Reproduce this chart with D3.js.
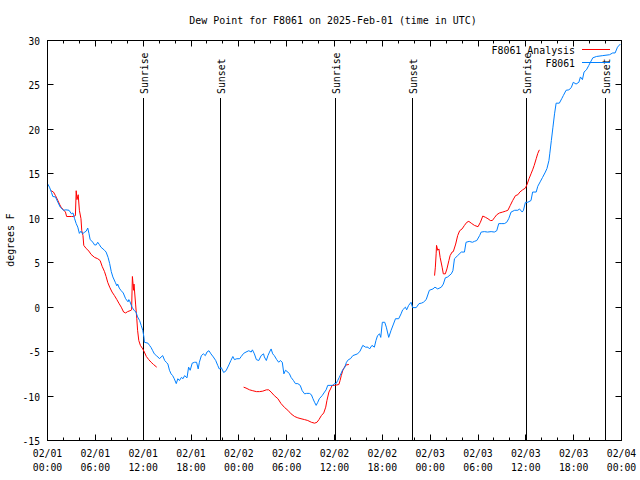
<!DOCTYPE html>
<html>
<head>
<meta charset="utf-8">
<script src="https://cdn.jsdelivr.net/npm/d3@7"></script>
<style>
  html, body { margin: 0; padding: 0; background: #fff; }
  svg { display: block; }
  text { font-family: "DejaVu Sans Mono", "Liberation Mono", monospace; font-size: 11px; fill: #000; }
</style>
</head>
<body>
<svg id="chart" width="640" height="480"></svg>
<script>
// ---------------- data ----------------
const titleText = "Dew Point for F8061 on 2025-Feb-01 (time in UTC)";
const yLabel = "degrees F";
const yTicks = [-15, -10, -5, 0, 5, 10, 15, 20, 25, 30];
const xTickHours = [0, 6, 12, 18, 24, 30, 36, 42, 48, 54, 60, 66, 72];
const xTickDates = ["02/01","02/01","02/01","02/01","02/02","02/02","02/02","02/02","02/03","02/03","02/03","02/03","02/04"];
const xTickTimes = ["00:00","06:00","12:00","18:00","00:00","06:00","12:00","18:00","00:00","06:00","12:00","18:00","00:00"];
const seriesNames = ["F8061 Analysis", "F8061"];

// hours since 2025-02-01 00:00 UTC
const sunHours = [12.08, 21.74, 36.16, 45.82, 60.12, 70.0];
const sunLabels = ["Sunrise", "Sunset", "Sunrise", "Sunset", "Sunrise", "Sunset"];

// Observed F8061 (blue)
const obsHours = [0.0,0.25,0.5,0.67,1.0,1.3,1.6,2.0,2.3,2.7,3.0,3.2,3.4,3.6,3.8,4.0,4.2,4.4,4.6,4.85,5.05,5.2,5.35,5.7,5.9,6.1,6.3,6.5,6.7,7.15,7.35,7.6,7.8,8.0,8.2,8.5,8.7,8.8,9.0,9.2,9.5,9.8,10.1,10.2,10.35,10.6,10.9,11.1,11.3,11.55,11.75,11.95,12.1,12.15,12.6,12.8,13.0,13.2,13.4,13.65,13.85,14.05,14.25,14.45,14.7,14.9,15.1,15.3,15.5,15.7,15.9,16.15,16.35,16.55,16.8,17.0,17.2,17.5,17.7,17.9,18.15,18.45,18.7,18.9,19.05,19.3,19.55,19.8,20.0,20.25,20.5,20.8,21.1,21.35,21.55,21.8,22.1,22.4,22.75,23.0,23.25,23.45,23.75,24.1,24.3,24.6,24.9,25.25,25.55,25.7,25.95,26.2,26.5,26.8,27.1,27.2,27.45,27.65,27.85,28.05,28.25,28.45,28.75,29.0,29.2,29.45,29.65,29.85,30.15,30.35,30.55,30.85,31.1,31.4,31.7,31.95,32.25,32.5,32.85,33.1,33.3,33.5,33.7,33.9,34.1,34.45,34.75,34.95,35.15,35.45,35.8,36.0,36.2,36.4,36.6,36.85,37.05,37.25,37.5,37.75,38.0,38.3,38.9,39.2,39.55,39.9,40.2,40.4,40.7,41.0,41.2,41.4,41.65,41.8,42.0,42.3,42.5,42.8,43.1,43.4,43.65,44.05,44.35,44.55,44.9,45.05,45.3,45.6,45.8,46.25,46.6,46.9,47.15,47.5,47.9,48.35,48.6,48.95,49.4,49.65,49.9,50.2,50.65,50.85,51.05,51.45,51.9,52.3,52.5,52.9,53.3,53.55,53.85,54.2,54.4,54.8,55.2,55.65,56.05,56.35,56.6,56.9,57.3,57.6,57.85,58.15,58.6,59.0,59.2,59.55,59.7,59.95,60.25,60.65,60.85,61.3,61.5,61.8,62.1,62.45,62.65,62.9,63.0,63.2,63.4,63.6,63.8,64.2,64.5,64.7,65.05,65.4,65.7,65.95,66.3,66.65,66.85,67.1,67.3,67.6,67.9,68.1,68.4,68.85,69.65,70.5,70.9,71.2,71.5,71.85];
const obsValues = [13.9,13.5,12.9,12.45,12.4,11.8,11.25,10.9,10.95,10.9,10.5,10.6,9.95,9.4,9.0,8.3,8.55,8.25,8.4,8.55,8.9,8.3,7.6,7.3,7.0,7.0,7.3,7.05,6.75,6.4,6.2,5.6,4.9,4.0,3.4,2.8,2.4,2.6,2.15,1.9,1.6,0.95,0.6,0.85,0.6,0.0,-0.4,-0.55,-1.1,-1.5,-2.05,-2.6,-3.4,-3.95,-4.05,-4.3,-4.55,-4.9,-5.25,-5.45,-5.6,-5.8,-5.6,-5.45,-6.0,-6.2,-6.4,-7.1,-7.5,-7.7,-8.05,-8.6,-8.05,-8.25,-7.9,-8.05,-7.7,-7.95,-6.75,-7.1,-6.3,-6.2,-6.2,-6.95,-6.2,-5.45,-5.25,-5.45,-5.05,-4.9,-5.25,-5.6,-6.0,-6.55,-6.95,-6.8,-7.35,-7.15,-6.5,-6.0,-5.55,-5.9,-5.8,-5.8,-5.55,-5.2,-5.05,-4.9,-5.05,-4.8,-5.25,-5.9,-6.0,-5.45,-5.25,-5.6,-6.0,-5.45,-5.05,-4.7,-5.25,-5.45,-5.9,-6.2,-6.0,-6.2,-7.5,-7.1,-7.3,-7.5,-7.9,-8.25,-8.6,-8.6,-8.8,-9.4,-9.75,-9.7,-9.7,-9.85,-10.3,-10.7,-11.05,-10.7,-10.3,-9.95,-9.55,-9.3,-8.8,-8.8,-8.8,-8.6,-8.6,-8.25,-7.9,-7.4,-7.0,-6.85,-6.2,-5.9,-5.8,-5.45,-5.25,-4.95,-4.3,-4.5,-4.5,-4.7,-4.3,-4.5,-3.75,-3.2,-3.0,-3.4,-1.7,-1.7,-2.25,-3.4,-2.6,-1.9,-1.3,-1.3,-0.75,-0.3,0.0,-0.3,0.2,0.55,-0.05,-0.05,0.4,0.45,0.55,0.85,1.9,2.05,2.25,2.05,2.25,2.6,3.3,3.4,3.75,4.1,5.45,5.8,6.2,6.2,7.3,7.4,7.3,7.4,7.5,8.05,8.45,8.5,8.45,8.5,8.45,8.6,9.4,9.4,9.4,9.55,9.95,10.7,10.9,10.9,11.05,10.7,10.9,11.8,11.8,12.0,12.95,12.95,13.6,14.1,14.6,15.2,15.6,16.5,17.25,18.75,20.25,21.75,22.95,22.95,23.45,23.8,24.4,24.45,24.7,25.3,25.1,25.3,25.9,25.6,26.45,26.7,27.2,27.55,28.05,28.2,28.3,28.4,28.6,28.6,29.25,29.6];

// Analysis F8061 (red), three runs separated by gaps (null)
const anaHours = [0.45,0.75,1.0,1.3,1.5,1.7,2.0,2.25,2.4,3.0,3.25,3.5,3.6,3.7,3.85,4.0,4.2,4.3,4.45,4.55,4.85,5.2,5.45,5.9,6.3,6.6,6.85,7.15,7.35,7.55,7.8,8.1,8.4,8.7,8.95,9.25,9.55,9.8,10.05,10.35,10.55,10.65,10.8,10.85,11.05,11.2,11.3,11.45,11.65,11.95,12.15,12.4,12.7,13.0,13.3,13.7,
  19.0,
  24.6,24.9,25.35,25.75,26.2,26.6,27.0,27.45,27.75,28.05,28.45,28.9,29.3,29.75,30.15,30.55,31.0,31.4,31.8,32.25,32.65,33.1,33.5,33.8,34.05,34.35,34.65,34.9,35.05,35.3,35.5,35.7,36.0,36.3,36.55,36.7,36.85,37.05,37.25,37.45,37.8,
  43.0,
  48.55,48.65,48.75,48.8,48.95,49.1,49.25,49.5,49.65,49.9,50.1,50.35,50.5,50.75,50.9,51.2,51.45,51.7,52.0,52.3,52.6,52.85,53.15,53.55,54.0,54.3,54.6,54.95,55.25,55.55,55.8,56.05,56.35,56.7,57.1,57.45,57.75,58.05,58.35,58.7,59.0,59.25,59.6,59.95,60.15,60.4,60.65,60.85,61.05,61.3,61.5,61.7];
const anaValues = [13.1,12.95,12.55,12.0,11.6,11.25,10.95,10.7,10.2,10.2,10.2,10.3,13.1,12.1,12.65,10.9,9.95,8.6,8.05,6.95,6.6,6.3,5.95,5.6,5.45,5.25,4.6,4.0,3.45,2.8,2.25,1.7,1.3,0.85,0.45,0.0,-0.55,-0.65,-0.5,-0.4,-0.3,3.45,1.9,2.6,0.35,-1.3,-2.6,-3.75,-4.3,-4.7,-5.05,-5.55,-5.9,-6.2,-6.45,-6.75,
  null,
  -9.0,-9.1,-9.3,-9.4,-9.5,-9.5,-9.45,-9.3,-9.3,-9.55,-9.95,-10.3,-10.85,-11.3,-11.6,-12.0,-12.3,-12.45,-12.55,-12.65,-12.75,-12.95,-13.05,-12.95,-12.65,-12.2,-11.9,-11.25,-10.5,-9.55,-9.2,-8.8,-8.8,-8.75,-8.7,-8.25,-7.7,-7.1,-6.75,-6.5,-6.45,
  null,
  3.55,4.5,6.0,6.95,6.4,6.55,5.6,4.5,3.75,3.75,4.3,5.25,5.8,6.2,6.25,7.1,8.05,8.6,8.8,9.2,9.55,9.65,9.45,9.2,9.05,9.55,10.25,10.1,9.95,9.75,9.75,10.05,10.4,10.6,10.7,10.8,10.9,11.45,12.0,12.55,12.65,12.95,13.2,13.4,13.8,14.45,15.0,15.45,15.95,16.7,17.3,17.7];

const colors = ["#ff0000", "#0080ff"];

// ---------------- chart ----------------
const svg = d3.select("#chart");
const pLeft = 47.5, pRight = 621.5, pTop = 40.5, pBottom = 440.5;
const x = d3.scaleLinear().domain([0, 72]).range([pLeft, pRight]);
const y = d3.scaleLinear().domain([-15, 30]).range([pBottom, pTop]);

function fitText(sel) {
  sel.each(function() {
    const t = d3.select(this);
    const n = t.text().length;
    t.attr("textLength", n * 6 - 0.5).attr("lengthAdjust", "spacingAndGlyphs");
  });
}

// title
svg.append("text").attr("x", 333).attr("y", 24).attr("text-anchor", "middle")
  .text(titleText).call(fitText);

// y label
svg.append("text").attr("transform", "translate(14,240) rotate(-90)")
  .attr("text-anchor", "middle").text(yLabel).call(fitText);

// y ticks
const gY = svg.append("g");
yTicks.forEach(v => {
  const yy = Math.round(y(v) - 0.5) + 0.5;
  gY.append("line").attr("x1", pLeft).attr("x2", pLeft + 6).attr("y1", yy).attr("y2", yy).attr("stroke", "#000");
  gY.append("line").attr("x1", pRight - 6).attr("x2", pRight).attr("y1", yy).attr("y2", yy).attr("stroke", "#000");
  gY.append("text").attr("x", 40).attr("y", yy + 4).attr("text-anchor", "end").text(String(v)).call(fitText);
});

// x ticks (major every 6h, minor every 2h)
const gX = svg.append("g");
d3.range(0, 73, 2).forEach(h => {
  const xx = Math.round(x(h) - 0.5) + 0.5;
  const len = (h % 6 === 0) ? 6 : 3;
  gX.append("line").attr("x1", xx).attr("x2", xx).attr("y1", pBottom).attr("y2", pBottom - len).attr("stroke", "#000");
  gX.append("line").attr("x1", xx).attr("x2", xx).attr("y1", pTop).attr("y2", pTop + len).attr("stroke", "#000");
});
xTickHours.forEach((h, i) => {
  const xx = x(h);
  gX.append("text").attr("x", xx).attr("y", 457).attr("text-anchor", "middle").text(xTickDates[i]).call(fitText);
  gX.append("text").attr("x", xx).attr("y", 471).attr("text-anchor", "middle").text(xTickTimes[i]).call(fitText);
});

// sunrise / sunset
const gS = svg.append("g");
sunHours.forEach((h, i) => {
  const xx = Math.round(x(h) - 0.5) + 0.5;
  gS.append("line").attr("x1", xx).attr("x2", xx).attr("y1", 98).attr("y2", pBottom).attr("stroke", "#000");
  gS.append("text").attr("transform", `translate(${xx + 4},94) rotate(-90)`)
    .attr("text-anchor", "start").text(sunLabels[i]).call(fitText);
});

// lines
const line = d3.line()
  .defined(d => d[1] !== null)
  .x(d => x(d[0])).y(d => y(d[1]));

const anaData = anaHours.map((h, i) => [h, anaValues[i]]);
const obsData = obsHours.map((h, i) => [h, obsValues[i]]);

svg.append("path").datum(anaData).attr("d", line)
  .attr("fill", "none").attr("stroke", colors[0]).attr("stroke-width", 1);
svg.append("path").datum(obsData).attr("d", line)
  .attr("fill", "none").attr("stroke", colors[1]).attr("stroke-width", 1);

// frame
svg.append("rect").attr("x", pLeft).attr("y", pTop).attr("width", pRight - pLeft).attr("height", pBottom - pTop)
  .attr("fill", "none").attr("stroke", "#000");

// legend
const legY = [49.5, 62.5];
seriesNames.forEach((name, i) => {
  svg.append("text").attr("x", 575).attr("y", legY[i] + 4).attr("text-anchor", "end").text(name).call(fitText);
  svg.append("line").attr("x1", 582).attr("x2", 610).attr("y1", legY[i]).attr("y2", legY[i])
    .attr("stroke", colors[i]).attr("stroke-width", 1);
});
</script>
</body>
</html>
